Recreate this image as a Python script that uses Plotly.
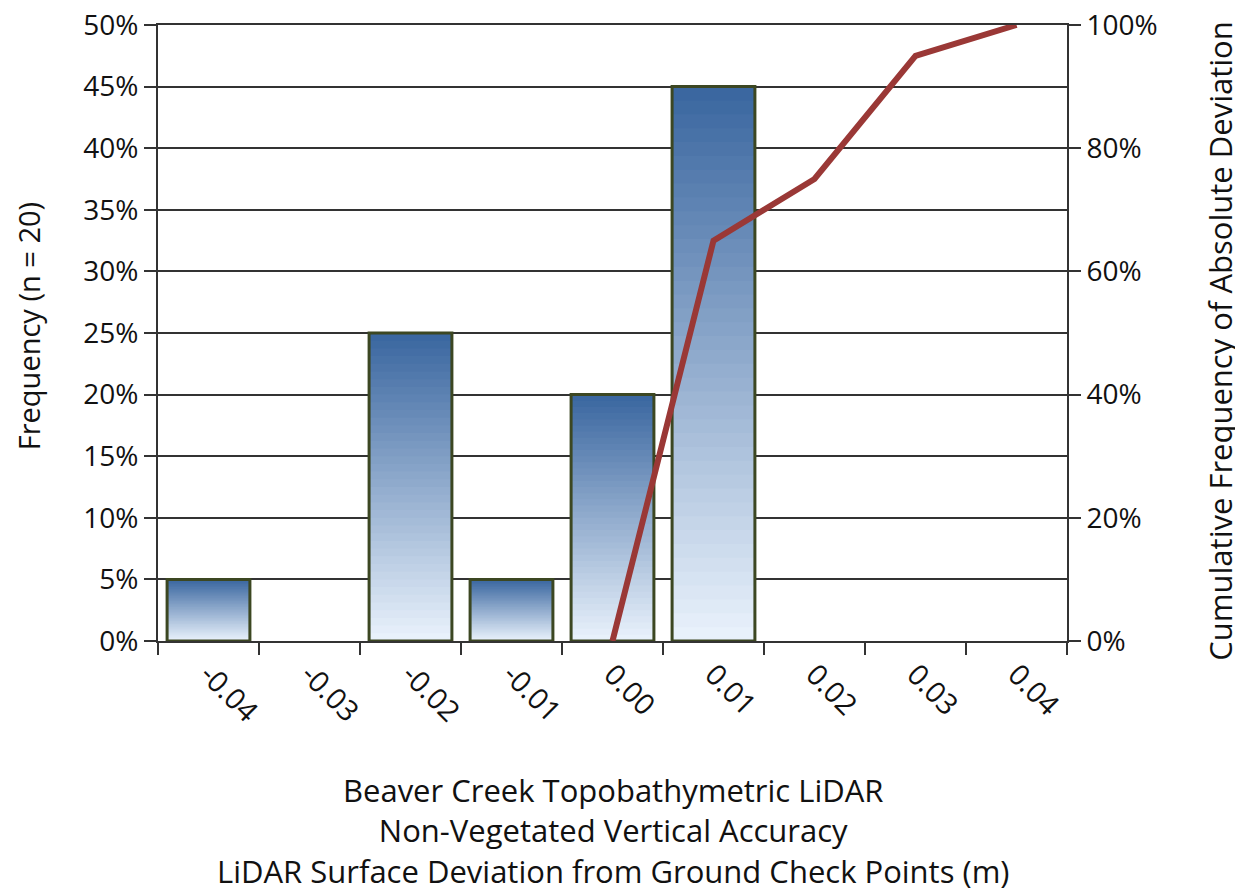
import plotly.graph_objects as go
from plotly.subplots import make_subplots

# 数据
bins = ["-0.04", "-0.03", "-0.02", "-0.01", "0.00", "0.01", "0.02", "0.03", "0.04"]
frequency = [0.05, 0.0, 0.25, 0.05, 0.20, 0.45, 0.0, 0.0, 0.0]
cum_bins = ["0.00", "0.01", "0.02", "0.03", "0.04"]
cum_frequency = [0.0, 0.65, 0.75, 0.95, 1.00]

FONT = "Open Sans"
TOP = (59, 103, 160)      # 柱顶深蓝
BOTTOM = (232, 241, 251)  # 柱底浅蓝
N_SLICES = 40

fig = make_subplots(specs=[[{"secondary_y": True}]])

# 渐变柱：从整高往下逐层覆盖更浅的颜色
for k in range(N_SLICES):
    t = k / (N_SLICES - 1)
    r, g, b = (round(TOP[i] + (BOTTOM[i] - TOP[i]) * t) for i in range(3))
    frac = 1 - k / N_SLICES
    fig.add_trace(
        go.Bar(
            x=bins,
            y=[v * frac if v > 0 else None for v in frequency],
            marker=dict(color=f"rgb({r},{g},{b})", line=dict(width=0)),
            showlegend=False,
            hoverinfo="skip",
        ),
        secondary_y=False,
    )

# 柱边框
fig.add_trace(
    go.Bar(
        x=bins,
        y=[v if v > 0 else None for v in frequency],
        marker=dict(color="rgba(0,0,0,0)", line=dict(color="#3c4722", width=3)),
        name="Frequency",
        showlegend=False,
    ),
    secondary_y=False,
)

# 累计频率线
fig.add_trace(
    go.Scatter(
        x=cum_bins,
        y=cum_frequency,
        mode="lines",
        line=dict(color="#9a3836", width=6),
        name="Cumulative",
        showlegend=False,
    ),
    secondary_y=True,
)

# 页面 body 自带 8px 边距，所以图尺寸减 8
fig.update_layout(
    width=1235,
    height=884,
    barmode="overlay",
    bargap=0.18,
    plot_bgcolor="white",
    paper_bgcolor="white",
    margin=dict(l=150, r=176, t=17, b=251),
    font=dict(family=FONT, size=28, color="#111111"),
)

# 轴标题用注释放置
fig.add_annotation(
    text="Beaver Creek Topobathymetric LiDAR<br>Non-Vegetated Vertical Accuracy"
         "<br>LiDAR Surface Deviation from Ground Check Points (m)",
    xref="paper", yref="paper", x=0.5, y=-0.307,
    xanchor="center", yanchor="middle", showarrow=False,
    font=dict(size=31),
)
fig.add_annotation(
    text="Frequency (n = 20)",
    xref="paper", yref="paper", x=-0.143, y=0.511,
    xanchor="center", yanchor="middle", textangle=-90, showarrow=False,
    font=dict(size=29),
)
fig.add_annotation(
    text="Cumulative Frequency of Absolute Deviation",
    xref="paper", yref="paper", x=1.168, y=0.487,
    xanchor="center", yanchor="middle", textangle=-90, showarrow=False,
    font=dict(size=31),
)

fig.update_xaxes(
    domain=[0, 1],
    type="category",
    categoryorder="array",
    categoryarray=bins,
    tickangle=45,
    tickson="boundaries",
    ticks="outside",
    ticklen=12,
    tickwidth=2,
    tickcolor="#333",
    showline=True,
    linecolor="#333",
    linewidth=2,
    mirror=True,
    showgrid=False,
    automargin=False,
    ticklabelstandoff=3,
    tickfont=dict(size=29),
)

fig.update_yaxes(
    range=[0, 0.5],
    tickvals=[i * 0.05 for i in range(11)],
    tickformat=".0%",
    ticks="outside",
    ticklen=12,
    tickwidth=2,
    tickcolor="#333",
    showline=True,
    linecolor="#333",
    linewidth=2,
    showgrid=True,
    gridcolor="#333",
    gridwidth=2,
    zeroline=False,
    automargin=False,
    ticklabeloverflow="allow",
    secondary_y=False,
)

fig.update_yaxes(
    range=[0, 1],
    tickvals=[i * 0.2 for i in range(6)],
    tickformat=".0%",
    ticks="outside",
    ticklen=12,
    tickwidth=2,
    tickcolor="#333",
    showline=True,
    linecolor="#333",
    linewidth=2,
    showgrid=False,
    zeroline=False,
    automargin=False,
    ticklabeloverflow="allow",
    secondary_y=True,
)

fig.write_html("out.html")
